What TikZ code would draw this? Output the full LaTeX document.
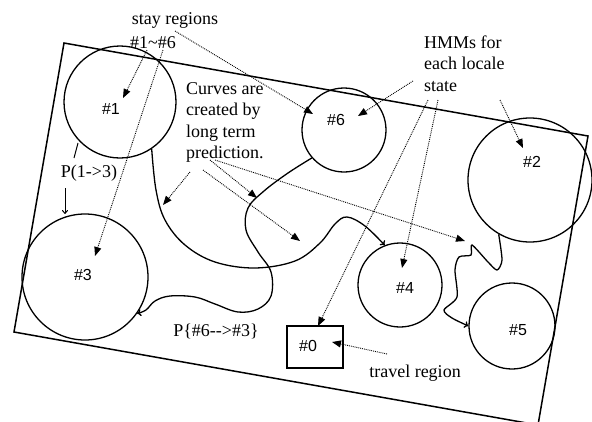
\documentclass[tikz,border=0pt]{standalone}
\usepackage{fontspec}
\setmainfont{Liberation Serif}
\newfontfamily\labfont{Liberation Sans}
\usetikzlibrary{arrows.meta}
\tikzset{
  region/.style={circle, draw, line width=1.3pt, inner sep=0pt},
  lbl/.style={font=\labfont\fontsize{16}{19}\selectfont, inner sep=0pt},
  txt/.style={font=\fontsize{18}{21.5}\selectfont, inner sep=0pt, align=left},
  ann/.style={densely dotted, line width=0.9pt, -{Triangle[length=9pt,width=7pt]}},
  flow/.style={line width=1.3pt, -{To[length=4pt,width=7pt]}},
  frame/.style={line width=1.5pt, line join=miter}
}
\begin{document}
\begin{tikzpicture}[x=1pt,y=-1pt]
\useasboundingbox (0,0) rectangle (592,421);
% tilted frame
\coordinate (ftl) at (64,43);
\coordinate (ftr) at (588,136);
\coordinate (fbr) at (538,425);
\coordinate (fbl) at (14,332);
\draw[frame] (ftl) -- (ftr) -- (fbr) -- (fbl) -- cycle;
% regions
\node[region, minimum size=112pt] (c1) at (120,102) {};
\node[region, minimum size=84pt] (c6) at (344,130) {};
\node[region, minimum size=124pt] (c2) at (530,180) {};
\node[region, minimum size=126pt] (c3) at (85,277) {};
\node[region, minimum size=84pt] (c4) at (400,285) {};
\node[region, minimum size=86pt] (c5) at (512,326) {};
\node[draw, line width=1.3pt, minimum width=56pt, minimum height=42pt, inner sep=0pt] (c0) at (315,347) {};
% region labels
\node[lbl] (l1) at (111,109) {\#1};
\node[lbl] (l6) at (336,120) {\#6};
\node[lbl] (l2) at (532,162) {\#2};
\node[lbl] (l3) at (83,275) {\#3};
\node[lbl] (l4) at (405,288) {\#4};
\node[lbl] (l5) at (518,330) {\#5};
\node[lbl] (l0) at (308,346) {\#0};
% texts
\node[txt] (stay) at (175,20) {stay regions};
\node[txt] (range) at (153,43) {\#1\char"7E\#6};
\node[txt, anchor=west] (curv) at (186,122.5) {Curves are\\created by\\long term\\prediction.};
\node[txt, anchor=west] (hmm) at (424,63.5) {HMMs for\\each locale\\state};
\node[txt] (p13) at (89,173) {P(1->3)};
\node[txt] (p63) at (216,331) {P\{\#6-{}->\#3\}};
\node[txt] (trav) at (415,373) {travel region};
% annotation arrow ends
\coordinate (s1a) at (147,50);  \coordinate (s1b) at (123,98);
\coordinate (s3a) at (163,50);  \coordinate (s3b) at (95,256);
\coordinate (s6a) at (175,31);  \coordinate (s6b) at (313,114);
\coordinate (h6a) at (413,81);  \coordinate (h6b) at (358,116);
\coordinate (h0a) at (428,100); \coordinate (h0b) at (318,326);
\coordinate (h4a) at (438,100); \coordinate (h4b) at (402,268);
\coordinate (h2a) at (500,100); \coordinate (h2b) at (523,148);
\coordinate (pa1) at (190,172); \coordinate (pb1) at (163,205);
\coordinate (pa2) at (203,170); \coordinate (pb2) at (300,241);
\coordinate (pa3) at (210,160); \coordinate (pb3) at (257,198);
\coordinate (pa4) at (215,160); \coordinate (pb4) at (465,241);
\coordinate (ta) at (387,354);  \coordinate (tb) at (332,342);
\coordinate (q1a) at (78,143);  \coordinate (q1b) at (74,158);
\coordinate (q2a) at (65,188);  \coordinate (q2b) at (65,214);
\draw[ann] (s1a) -- (s1b);
\draw[ann] (s3a) -- (s3b);
\draw[ann] (s6a) -- (s6b);
\draw[ann] (h6a) -- (h6b);
\draw[ann] (h0a) -- (h0b);
\draw[ann] (h4a) -- (h4b);
\draw[ann] (h2a) -- (h2b);
\draw[ann] (pa1) -- (pb1);
\draw[ann] (pa2) -- (pb2);
\draw[ann] (pa3) -- (pb3);
\draw[ann] (pa4) -- (pb4);
\draw[ann] (ta) -- (tb);
\draw[line width=1pt] (q1a) -- (q1b);
\draw[line width=1pt, -{To[length=4pt,width=6pt]}] (q2a) -- (q2b);
% long term prediction curves
\draw[flow] plot[smooth, tension=0.6] coordinates {(c1.-56) (156,190) (165,220) (185,245) (215,262) (255,268) (295,261) (320,243) (335,224) (347,217) (365,226) (c4.111)};
\draw[flow] plot[smooth, tension=0.6] coordinates {(c6.221) (288,173) (264,191) (248,208) (246,230) (258,252) (271,272) (271,296) (258,309) (238,312) (215,304) (195,297) (170,296) (155,301) (146,310) (c3.-35)};
\draw[flow] plot[smooth, tension=0.45] coordinates {(c2.-120) (502,260) (497,270) (488,262) (472,245) (471,255) (459,257) (455,270) (457,297) (444,310) (452,318) (c5.180)};
\end{tikzpicture}
\end{document}
